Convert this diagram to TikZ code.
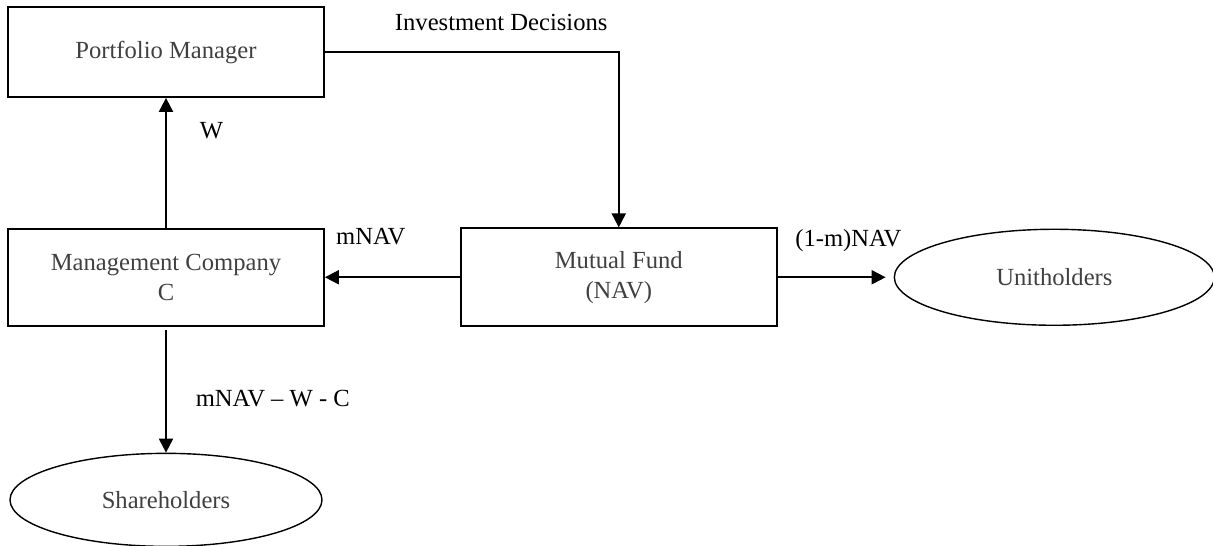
\documentclass[tikz,border=0pt]{standalone}
\usepackage{fontspec}
\setmainfont{Liberation Serif}
\usepackage{tikz}
\usetikzlibrary{arrows.meta, positioning, shapes.geometric}

\begin{document}
\begin{tikzpicture}[node distance=2.6cm, auto,
    box/.style={draw, line width=1pt, minimum width=6.32cm, minimum height=1.94cm, inner sep=0pt, align=center, text=black!75, font=\fontsize{14}{17}\selectfont},
    oval/.style={draw, ellipse, line width=0.8pt, minimum width=6.3cm, minimum height=1.9cm, inner sep=0pt, text=black!75, font=\fontsize{14}{17}\selectfont},
    flow/.style={-{Triangle[length=8pt,width=8pt]}, line width=1.1pt},
    lbl/.style={font=\fontsize{14}{17}\selectfont}]
    \useasboundingbox (0,0) rectangle (24.26,-10.9);

    \node[box, minimum height=1.8cm] (manager) at (3.32,-1.04) {Portfolio Manager};
    \node[box, below=2.6cm of manager] (company) {Management Company\\C};
    \node[box, right=2.7cm of company, minimum height=1.96cm] (fund) {Mutual Fund\\(NAV)};
    \node[oval, right=2.32cm of fund, minimum width=6.4cm, minimum height=1.92cm] (unit) {Unitholders};
    \node[oval, below=2.52cm of company, minimum width=6.24cm, minimum height=1.86cm] (share) {Shareholders};

    \draw[flow] (company.north) -- node[lbl, pos=0.75, right=0.54cm] {W} (manager.south);
    \draw[flow] (manager.east) -| node[lbl, pos=0.3, above=0.29cm] {Investment Decisions} (fund.north);
    \draw[flow] (fund.west) -- node[lbl, pos=0.66, above=0.52cm] {mNAV} (company.east);
    \draw[flow, shorten >=0.16cm] (fund.east) -- node[lbl, pos=0.61, above=0.38cm] {(1-m)NAV} (unit.west);
    \draw[flow, shorten <=0.06cm] (company.south) -- node[lbl, pos=0.57, right=0.46cm] {mNAV – W - C} (share.north);
\end{tikzpicture}
\end{document}
